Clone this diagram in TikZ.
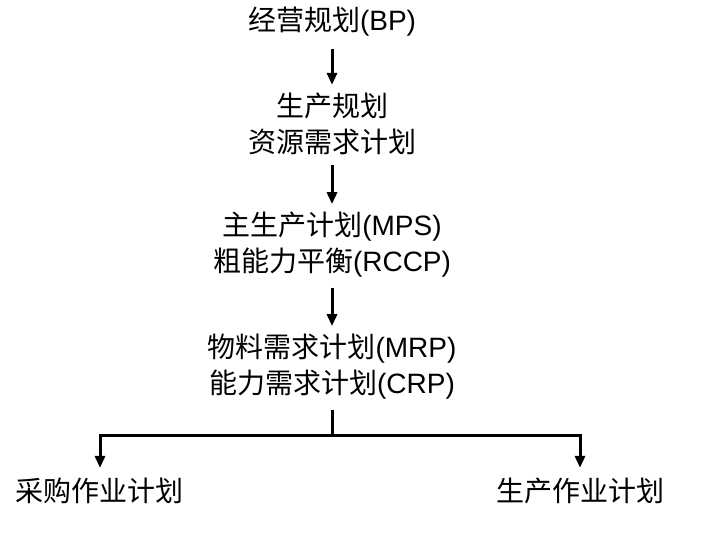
\documentclass[tikz,border=0pt]{standalone}
\usepackage{fontspec}
\setmainfont{Liberation Sans}
\newfontfamily\cjk{Noto Sans CJK SC}
\usetikzlibrary{arrows.meta}

\begin{document}
\begin{tikzpicture}[x=1pt, y=-1pt,
        lbl/.style={inner sep=0pt, align=center, font=\fontsize{28}{36}\selectfont},
        link/.style={line width=3pt},
        arr/.style={link, -{Triangle[length=12pt, width=10pt]}}]
        \useasboundingbox (0,0) rectangle (707,539);

        % Levels
        \node[lbl] (bp)  at (332,22)  {{\cjk 经营规划}(BP)};
        \node[lbl] (pp)  at (332,124) {{\cjk 生产规划}\\{\cjk 资源需求计划}};
        \node[lbl] (mps) at (332,245) {{\cjk 主生产计划}(MPS)\\{\cjk 粗能力平衡}(RCCP)};
        \node[lbl] (mrp) at (332,367) {{\cjk 物料需求计划}(MRP)\\{\cjk 能力需求计划}(CRP)};
        \node[lbl] (cg)  at (100,491) {\cjk 采购作业计划};
        \node[lbl] (sc)  at (580,491) {\cjk 生产作业计划};
        \coordinate (fork) at (332,435);

        % Arrows
        \draw[arr, shorten <=12pt, shorten >=8pt] (bp) -- (pp);
        \draw[arr, shorten <=10pt, shorten >=8pt] (pp) -- (mps);
        \draw[arr, shorten <=10pt, shorten >=8pt] (mps) -- (mrp);
        \draw[link, shorten <=10pt] (mrp) -- (fork);
        \draw[arr, shorten >=10pt] (fork) -| (cg);
        \draw[arr, shorten >=10pt] (fork) -| (sc);
\end{tikzpicture}
\end{document}
